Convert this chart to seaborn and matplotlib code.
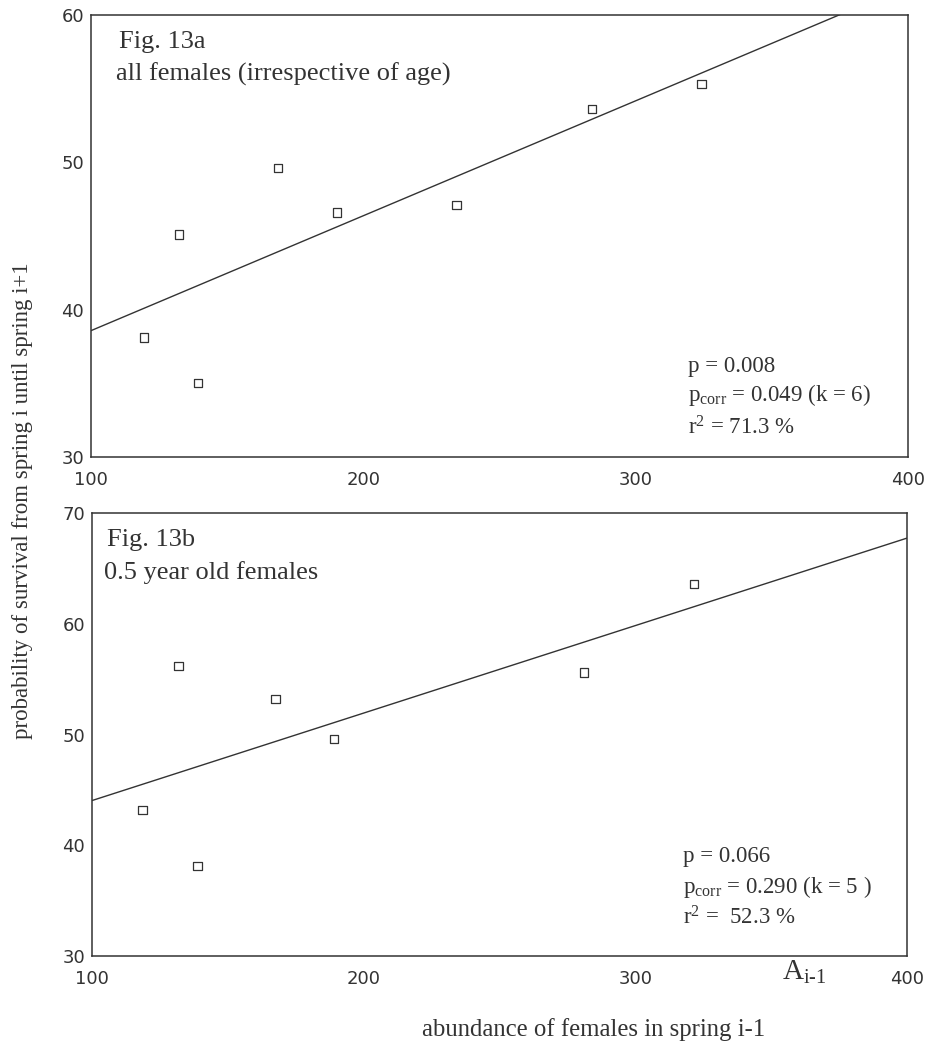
import numpy as np
import pandas as pd
import matplotlib
matplotlib.use("Agg")
import matplotlib.pyplot as plt
import seaborn as sns

# ---- data ----
abund_a = [119.4, 132.3, 139.3, 168.6, 190.3, 234.3, 283.9, 324.2]
surv_a = [38.1, 45.1, 35.0, 49.6, 46.6, 47.1, 53.6, 55.3]

abund_b = [118.6, 131.8, 138.8, 167.6, 189.1, 281.1, 321.6]
surv_b = [43.2, 56.2, 38.1, 53.2, 49.6, 55.6, 63.6]

x_ticks = [100, 200, 300, 400]
y_ticks_a = [30, 40, 50, 60]
y_ticks_b = [30, 40, 50, 60, 70]

title_a = ["Fig. 13a", "all females (irrespective of age)"]
title_b = ["Fig. 13b", "0.5 year old females"]
stats_a = ["p = 0.008", r"p$_{\mathrm{corr}}$ = 0.049 (k = 6)", r"r$^{\mathrm{2}}$ = 71.3 %"]
stats_b = ["p = 0.066", r"p$_{\mathrm{corr}}$ = 0.290 (k = 5 )", r"r$^{\mathrm{2}}$ =  52.3 %"]

df_a = pd.DataFrame({"abundance": abund_a, "survival": surv_a})
df_b = pd.DataFrame({"abundance": abund_b, "survival": surv_b})

sns.set_theme(style="white")
plt.rcParams["font.family"] = ["DejaVu Sans"]
plt.rcParams["mathtext.fontset"] = "custom"
plt.rcParams["mathtext.rm"] = "Liberation Serif"
plt.rcParams["mathtext.it"] = "Liberation Serif:italic"

INK = "#333333"
SERIF = "Liberation Serif"

fig = plt.figure(figsize=(9.34, 10.45), dpi=100)
ax_a = fig.add_axes([0.0974, 0.5627, 0.8746, 0.4229])
ax_b = fig.add_axes([0.0985, 0.0852, 0.8725, 0.4238])


def draw(ax, df, yticks, titles, stats, stat_x, stat_ys, title_x):
    ax.set_xlim(100, 400)
    ax.set_ylim(yticks[0], yticks[-1])
    sns.regplot(data=df, x="abundance", y="survival", ax=ax, ci=None,
                truncate=False, marker="s", color=INK,
                scatter_kws=dict(facecolors="none", edgecolors=INK, s=36,
                                 linewidths=0.9, alpha=1, zorder=3),
                line_kws=dict(color=INK, linewidth=1.0))
    ax.set_xlim(100, 400)
    ax.set_ylim(yticks[0], yticks[-1])
    ax.set_xticks(x_ticks)
    ax.set_yticks(yticks)
    ax.set_xlabel("")
    ax.set_ylabel("")
    for s in ax.spines.values():
        s.set_color(INK)
        s.set_linewidth(1.1)
    ax.tick_params(axis="both", direction="out", length=3, width=1.5,
                   colors=INK, labelsize=13, labelcolor=INK)
    ax.tick_params(axis="x", pad=7)
    ax.tick_params(axis="y", pad=2)
    ax.text(title_x, 0.925, titles[0], transform=ax.transAxes, family=SERIF,
            fontsize=19, color=INK, va="baseline", ha="left")
    ax.text(title_x - 0.003, 0.851, titles[1], transform=ax.transAxes, family=SERIF,
            fontsize=19, color=INK, va="baseline", ha="left")
    for t, yy in zip(stats, stat_ys):
        ax.text(stat_x, yy, t, transform=ax.transAxes, family=SERIF,
                fontsize=16.5, color=INK, va="baseline", ha="left")


draw(ax_a, df_a, y_ticks_a, title_a, stats_a, 0.731, [0.192, 0.127, 0.050], 0.034)
draw(ax_b, df_b, y_ticks_b, title_b, stats_b, 0.725, [0.212, 0.142, 0.070], 0.018)

fig.text(0.837, 0.062, r"A$_{\mathrm{i\text{-}1}}$", family=SERIF, fontsize=21,
         color=INK, va="baseline", ha="left")
fig.text(0.635, 0.009, "abundance of females in spring i-1", family=SERIF,
         fontsize=17.8, color=INK, va="baseline", ha="center")
fig.text(0.024, 0.5206, "probability of survival from spring i until spring i+1",
         family=SERIF, fontsize=16.5, color=INK, rotation=90, va="center", ha="center")

fig.savefig("out.png", dpi=100, facecolor="white")
